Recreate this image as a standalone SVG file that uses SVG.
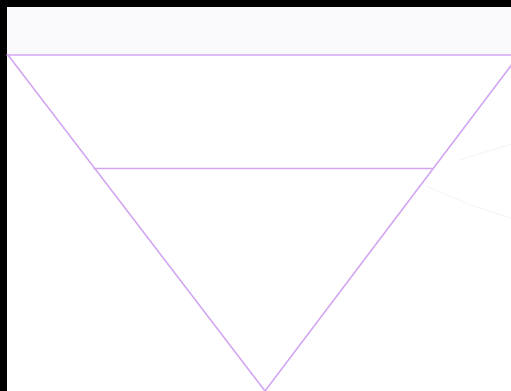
<svg xmlns="http://www.w3.org/2000/svg" width="511" height="391" viewBox="0 0 511 391">
<style>
.edge{stroke:#d3a6f2;stroke-width:1.6;fill:none;stroke-linecap:round}
.faint{stroke:#f5f5f7;stroke-width:1.2;fill:none}
</style>
<rect x="0" y="0" width="511" height="391" fill="#000000"/>
<rect x="7" y="7" width="504" height="384" fill="#ffffff"/>
<rect x="7" y="7" width="504" height="48" fill="#fafafc"/>
<g id="faint">
<polyline class="faint" points="460,160 511,144"/>
<polyline class="faint" points="426,186 470,205 511,218"/>
</g>
<g id="connectors">
<line class="edge" x1="7" y1="55" x2="511" y2="55"/>
<line class="edge" x1="8" y1="55" x2="265" y2="391"/>
<line class="edge" x1="519" y1="55" x2="265" y2="391"/>
<line class="edge" x1="94" y1="168.5" x2="433" y2="168.5"/>
</g>
</svg>
